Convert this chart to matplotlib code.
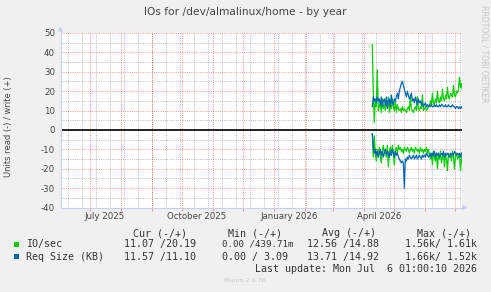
import numpy as np
import pandas as pd
import matplotlib
matplotlib.use('Agg')
import matplotlib.pyplot as plt
from matplotlib.patches import Polygon, Rectangle
from matplotlib.lines import Line2D

# DATA #

# one value per day, from 2026-04-09 on
start_day = '2026-04-09'
io_write = [44, 20, 4, 15, 12, 31, 10, 12, 14, 9, 16, 11, 13,
            10, 15, 12, 17, 9, 14, 11, 16, 12, 10, 15, 9, 13, 11,
            10, 11, 9, 12, 10, 11, 10, 9, 11, 12, 10, 18, 11, 10, 9,
            11, 12, 10, 17, 11, 10, 12, 11, 18, 10, 11, 12, 10, 11, 12,
            12, 15, 13, 19, 14, 13, 16, 14, 20, 15, 14, 17, 15, 21, 16,
            15, 18, 16, 22, 17, 16, 19, 18, 17, 23, 18, 17, 20, 19, 21,
            27, 22, 24, 20.19]
io_read = [2, 14, 3, 12, 16, 10, 14, 9, 13, 17, 11, 8, 12,
           10, 14, 8, 19, 11, 9, 13, 8, 12, 18, 10, 9, 12, 8,
           10, 9, 11, 10, 12, 9, 10, 11, 9, 10, 12, 10, 9, 11, 10,
           12, 9, 10, 11, 10, 12, 9, 11, 10, 12, 10, 11, 9, 12, 10,
           13, 15, 12, 18, 11, 14, 16, 12, 20, 13, 15, 11, 17, 14, 12,
           19, 13, 15, 21, 12, 14, 13, 16, 11, 14, 20, 13, 12, 15, 14,
           13, 21, 15, 11.07]
req_write = [12, 17, 15, 16, 14, 17, 15, 16, 13, 17, 12, 15, 16,
             13, 17, 11, 15, 16, 12, 18, 14, 13, 16, 15, 17, 19, 16,
             20, 22, 24, 25, 23, 21, 19, 17, 20, 18, 16, 17, 19, 15,
             16, 14, 17, 15, 13, 16, 14, 15, 13, 14, 12, 13, 14, 12, 13, 12,
             13, 12, 13, 12, 12, 13, 12, 13, 12, 12, 13, 12, 13, 13, 12,
             12, 13, 12, 12, 13, 12, 12, 12, 13, 12, 12, 11, 12, 12, 11,
             12, 11, 12, 11.10]
req_read = [2, 8, 12, 10, 13, 11, 14, 12, 10, 13, 11, 14, 12,
            10, 13, 11, 12, 14, 11, 13, 10, 12, 14, 11, 13, 12, 14,
            15, 16, 17, 16, 17, 30, 15, 16, 14, 15, 13, 14, 15, 14,
            13, 15, 14, 13, 15, 14, 13, 14, 15, 13, 14, 13, 14, 12, 13, 14,
            13, 12, 14, 12, 13, 11, 14, 12, 13, 12, 14, 13, 12, 13, 11,
            14, 12, 13, 12, 13, 14, 12, 13, 12, 13, 11, 12, 13, 12, 13,
            12, 14, 12, 11.57]

x_labels = ['July 2025', 'October 2025', 'January 2026', 'April 2026']
x_label_dates = ['2025-07-16', '2025-10-16', '2026-01-16', '2026-04-16']

header = ['Cur (-/+)', 'Min (-/+)', 'Avg (-/+)', 'Max (-/+)']
io_stats = ['11.07 /20.19', '0.00 /439.71m', '12.56 /14.88', '1.56k/ 1.61k']
req_stats = ['11.57 /11.10', '0.00 / 3.09', '13.71 /14.92', '1.66k/ 1.52k']


# STYLE #

GREEN = '#00CC00'
BLUE = '#0066B3'
TXT = '#333333'
MAJ = (1.0, 0.0, 0.0, 0.40)
MIN = (0.45, 0.45, 0.45, 0.45)
AXC = '#C8CCF8'
plt.rcParams['axes.unicode_minus'] = False

W, H = 491, 292
def fx(px): return px / W
def fy(py): return 1 - py / H

dot = dict(lw=0.72, ls=(0, (1, 1.2)))


# PROGRAM #

fig = plt.figure(figsize=(W / 100, H / 100), dpi=100, facecolor='#F0F0F0')
ax = fig.add_axes([fx(60.5), fy(207.5), 401 / W, 174.5 / H])
ax.set_facecolor('white')
for s in ax.spines.values():
    s.set_visible(False)

x0, x1 = pd.Timestamp('2025-06-02'), pd.Timestamp('2026-07-07')
ax.set_xlim(x0, x1)
ax.set_ylim(-40, 50)

# grid (minor grey dotted, major red dotted)
for d in pd.date_range('2025-06-09', x1, freq='14D'):
    ax.axvline(d, color=MIN, zorder=0.5, **dot)
for v in range(-35, 50, 10):
    ax.axhline(v, color=MIN, zorder=0.5, **dot)
months = pd.date_range('2025-07-01', x1, freq='MS')
for d in months:
    ax.axvline(d, color=MAJ, zorder=0.6, **dot)
for v in range(-30, 51, 10):
    ax.axhline(v, color=MAJ, zorder=0.6, **dot)

dates = pd.date_range(start_day, periods=len(io_write), freq='D')
ax.plot(dates, io_write, color=GREEN, lw=0.9, zorder=2)
ax.plot(dates, -np.array(io_read), color=GREEN, lw=0.9, zorder=2)
ax.plot(dates, req_write, color=BLUE, lw=0.9, zorder=2.1)
ax.plot(dates, -np.array(req_read), color=BLUE, lw=0.9, zorder=2.1)
ax.axhline(0, color='black', lw=1.2, zorder=3)

# ticks
ax.set_xticks(months)
ax.set_xticklabels([])
ax.tick_params(axis='x', which='major', length=2.2, width=0.7, color=MAJ, direction='out')
ax.set_xticks(pd.to_datetime(x_label_dates), minor=True)
ax.set_xticklabels(x_labels, minor=True)
ax.tick_params(axis='x', which='minor', length=0, pad=3.0, labelsize=6.2, labelcolor='#444444')
ax.set_yticks(range(-40, 51, 10))
ax.tick_params(axis='y', length=0, pad=4.0, labelsize=6.2, labelcolor='#444444')

# axis lines with arrows
fig.add_artist(Line2D([fx(60.5), fx(60.5)], [fy(207.5), fy(30)], color=AXC, lw=0.8))
fig.add_artist(Line2D([fx(60.5), fx(463)], [fy(207.5), fy(207.5)], color=AXC, lw=0.8))
fig.add_artist(Polygon([[fx(57.8), fy(31.5)], [fx(63.2), fy(31.5)], [fx(60.5), fy(26.5)]],
                       closed=True, color=AXC, lw=0))
fig.add_artist(Polygon([[fx(462.5), fy(204.8)], [fx(462.5), fy(210.2)], [fx(467.5), fy(207.5)]],
                       closed=True, color=AXC, lw=0))

# texts
fig.text(0.5, fy(12), 'IOs for /dev/almalinux/home - by year', ha='center', va='center',
         fontsize=7.7, color='#444444')
fig.text(fx(8.5), fy(127), 'Units read (-) / write (+)', rotation=90, ha='center', va='center',
         fontsize=6.0, color='#444444')
fig.text(fx(484), fy(54), 'RRDTOOL / TOBI OETIKER', rotation=270, ha='center', va='center',
         fontsize=5.5, color='#C4C4C4')

mono = dict(family='DejaVu Sans Mono', fontsize=7.2, color=TXT, va='center', ha='left')
for s, px in zip(header, [133, 228, 322, 417]):
    fig.text(fx(px), fy(233), s, **mono)

fig.add_artist(Rectangle((fx(14), fy(246.8)), 5.3 / W, 5 / H, color=GREEN, lw=0))
fig.add_artist(Rectangle((fx(14), fy(259.3)), 5.3 / W, 5 / H, color=BLUE, lw=0))
fig.text(fx(26), fy(244), 'IO/sec', **mono)
for s, px in zip(io_stats, [124, 222, 307, 405]):
    kw = dict(mono)
    if len(s) > 12:
        kw['fontsize'] = 6.6
    fig.text(fx(px), fy(244), s, **kw)
fig.text(fx(26), fy(257), 'Req Size (KB)', **mono)
for s, px in zip(req_stats, [124, 222, 307, 405]):
    fig.text(fx(px), fy(257), s, **mono)

fig.text(fx(477), fy(269), 'Last update: Mon Jul  6 01:00:10 2026',
         family='DejaVu Sans Mono', fontsize=7.2, color=TXT, va='center', ha='right')
fig.text(fx(245), fy(280), 'Munin 2.0.76', ha='center', va='center', fontsize=4.6, color='#C8C8C8')

fig.savefig('out.png', dpi=100, facecolor=fig.get_facecolor())
